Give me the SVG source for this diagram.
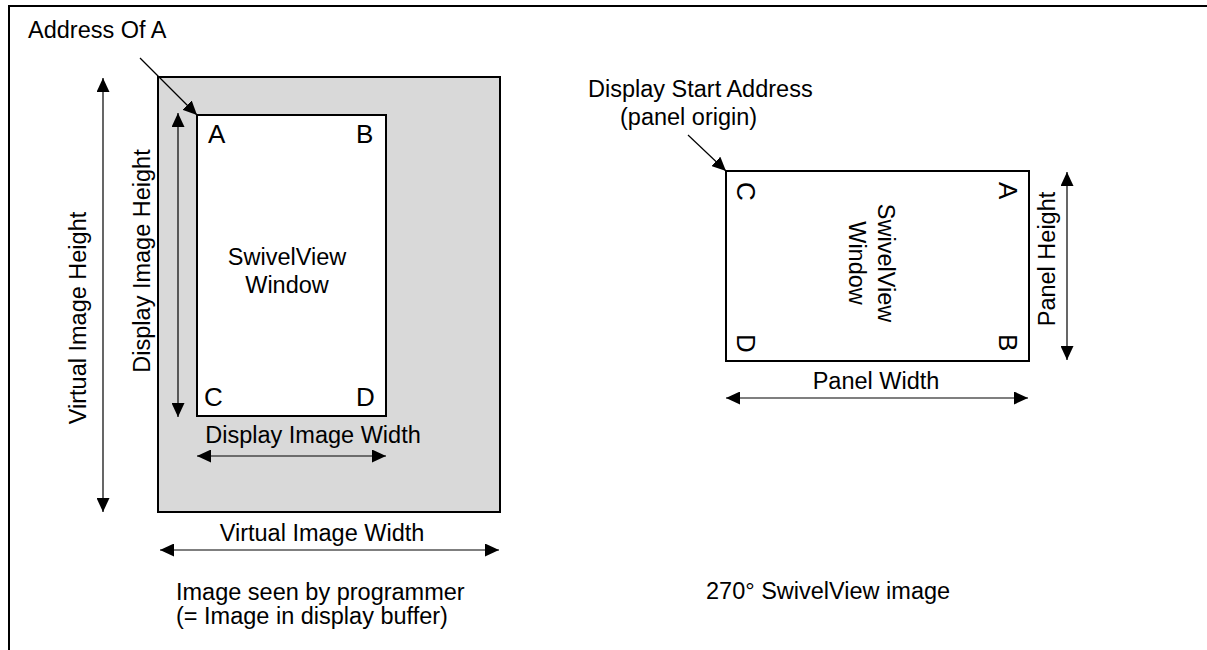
<svg xmlns="http://www.w3.org/2000/svg" width="1207" height="650" viewBox="0 0 1207 650">
<style>
text{font-family:"Liberation Sans",Arial,sans-serif;font-size:23.5px;fill:#000}
.big{font-size:26px}
.box{stroke:#000;stroke-width:2}
.ln{stroke:#000;stroke-width:1.2;fill:none}
</style>
<defs>
<marker id="ah" markerUnits="userSpaceOnUse" markerWidth="15" markerHeight="13" refX="14" refY="6.5" orient="auto-start-reverse">
<path d="M0,0 L14,6.5 L0,13 z" fill="#000"/>
</marker>
</defs>
<g id="frame">
<path d="M9,650 V6 H1207" fill="none" stroke="#000" stroke-width="2"/>
</g>
<g id="virtual-image">
<rect x="158" y="77" width="342" height="435" fill="#d9d9d9" class="box"/>
</g>
<g id="display-window">
<rect x="197" y="115" width="189" height="301" fill="#fff" class="box"/>
<text class="big" x="208" y="143">A</text>
<text class="big" x="356" y="143">B</text>
<text class="big" x="204" y="406">C</text>
<text class="big" x="356" y="406">D</text>
<text x="287" y="265" text-anchor="middle">SwivelView</text>
<text x="287" y="293" text-anchor="middle">Window</text>
</g>
<g id="panel">
<rect x="726" y="171" width="303" height="190" fill="#fff" class="box"/>
<text class="big" transform="translate(737,182) rotate(90)">C</text>
<text class="big" transform="translate(999,182) rotate(90)">A</text>
<text class="big" transform="translate(737,334) rotate(90)">D</text>
<text class="big" transform="translate(999,334) rotate(90)">B</text>
<text transform="translate(878,263) rotate(90)" text-anchor="middle">SwivelView</text>
<text transform="translate(849,263) rotate(90)" text-anchor="middle">Window</text>
</g>
<g id="labels">
<text x="28" y="38">Address Of A</text>
<text transform="translate(86,318) rotate(-90)" text-anchor="middle">Virtual Image Height</text>
<text transform="translate(150,261) rotate(-90)" text-anchor="middle">Display Image Height</text>
<text x="313" y="443" text-anchor="middle">Display Image Width</text>
<text x="322" y="541" text-anchor="middle">Virtual Image Width</text>
<text x="176" y="600">Image seen by programmer</text>
<text x="176" y="624">(= Image in display buffer)</text>
<text x="588" y="97">Display Start Address</text>
<text x="620" y="125">(panel origin)</text>
<text transform="translate(1055,259) rotate(-90)" text-anchor="middle">Panel Height</text>
<text x="876" y="389" text-anchor="middle">Panel Width</text>
<text x="706" y="599">270° SwivelView image</text>
</g>
<g id="connectors">
<line class="ln" x1="140" y1="58" x2="197" y2="115" marker-end="url(#ah)"/>
<line class="ln" x1="103" y1="78" x2="103" y2="512" marker-start="url(#ah)" marker-end="url(#ah)"/>
<line class="ln" x1="178" y1="113" x2="178" y2="417" marker-start="url(#ah)" marker-end="url(#ah)"/>
<line class="ln" x1="197" y1="456" x2="386" y2="456" marker-start="url(#ah)" marker-end="url(#ah)"/>
<line class="ln" x1="160" y1="550" x2="499" y2="550" marker-start="url(#ah)" marker-end="url(#ah)"/>
<line class="ln" x1="688" y1="135" x2="726" y2="171" marker-end="url(#ah)"/>
<line class="ln" x1="1067" y1="172" x2="1067" y2="360" marker-start="url(#ah)" marker-end="url(#ah)"/>
<line class="ln" x1="726" y1="398" x2="1028" y2="398" marker-start="url(#ah)" marker-end="url(#ah)"/>
</g>
</svg>
